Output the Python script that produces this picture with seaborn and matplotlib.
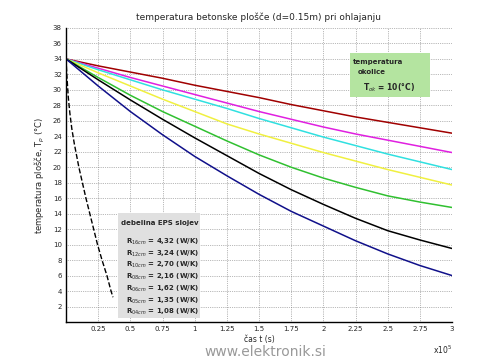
import numpy as np
import pandas as pd
import matplotlib
matplotlib.use("Agg")
import matplotlib.pyplot as plt
import seaborn as sns
from matplotlib.patches import Rectangle

# time axis (x 1e5 s)
t_scale = 1e5
t_steps = [0, 0.25, 0.5, 0.75, 1.0, 1.25, 1.5, 1.75, 2.0, 2.25, 2.5, 2.75, 3.0]

# plate temperature for each EPS thickness (deg C)
T_16cm = [34, 33.1, 32.3, 31.5, 30.6, 29.8, 29.0, 28.1, 27.3, 26.5, 25.8, 25.1, 24.4]
T_12cm = [34, 32.8, 31.6, 30.5, 29.4, 28.3, 27.2, 26.2, 25.2, 24.3, 23.5, 22.7, 21.9]
T_10cm = [34, 32.6, 31.3, 30.0, 28.8, 27.6, 26.3, 25.1, 23.9, 22.8, 21.7, 20.7, 19.7]
T_08cm = [34, 32.2, 30.5, 28.8, 27.2, 25.6, 24.3, 23.1, 21.9, 20.8, 19.7, 18.7, 17.7]
T_06cm = [34, 31.6, 29.3, 27.2, 25.3, 23.4, 21.6, 20.0, 18.6, 17.4, 16.3, 15.5, 14.8]
T_05cm = [34, 31.3, 28.7, 26.2, 23.8, 21.5, 19.2, 17.1, 15.2, 13.4, 11.8, 10.6, 9.5]
T_04cm = [34, 30.5, 27.2, 24.2, 21.4, 18.9, 16.5, 14.3, 12.4, 10.5, 8.8, 7.3, 6.0]

# no insulation (dashed)
t_bare = [0, 800, 1800, 3000, 4500, 6500, 10000, 15500, 21500, 24500, 28000, 31800, 35000, 36500]
T_bare = [34, 31.5, 29, 27, 25, 23, 20, 16, 12, 10, 8, 6, 4, 3.2]

layers = ["16cm", "12cm", "10cm", "08cm", "06cm", "05cm", "04cm"]
R_values = ["4,32", "3,24", "2,70", "2,16", "1,62", "1,35", "1,08"]
colors = ["#a00000", "#e020e0", "#30e0e0", "#f0f040", "#30c030", "#000000", "#10108a"]
series = [T_16cm, T_12cm, T_10cm, T_08cm, T_06cm, T_05cm, T_04cm]

rows = []
for name, vals in zip(layers, series):
    for t, T in zip(t_steps, vals):
        rows.append({"t": t * t_scale, "T": T, "sloj": name})
df = pd.DataFrame(rows)
df_bare = pd.DataFrame({"t": t_bare, "T": T_bare})

sns.set_style("white")
plt.rcParams["font.family"] = ["DejaVu Sans"]

fig = plt.figure(figsize=(5, 3.63), dpi=100)
ax = fig.add_axes([0.132, 0.113, 0.772, 0.81])

sns.lineplot(data=df, x="t", y="T", hue="sloj", palette=colors, linewidth=1.1,
             legend=False, ax=ax)
sns.lineplot(data=df_bare, x="t", y="T", color="black", linewidth=1.0,
             linestyle="--", legend=False, ax=ax)

ax.set_xlim(0, 3e5)
ax.set_ylim(0, 38)
xt = np.arange(0.25, 3.01, 0.25)
ax.set_xticks(xt * t_scale)
ax.set_xticklabels([("%g" % v) for v in xt], fontsize=5)
ax.set_yticks(np.arange(2, 39, 2))
ax.set_yticklabels([str(v) for v in range(2, 39, 2)], fontsize=5)
ax.tick_params(direction="in", length=3, width=0.8, pad=3)
ax.grid(True, linestyle=":", color="#777777", linewidth=0.5)
for s in ["top", "right"]:
    ax.spines[s].set_visible(False)
for s in ["left", "bottom"]:
    ax.spines[s].set_linewidth(1.0)
    ax.spines[s].set_color("black")

ax.set_title("temperatura betonske plošče (d=0.15m) pri ohlajanju", fontsize=6.5, pad=6)
ax.set_xlabel("čas t (s)", fontsize=5.5, labelpad=2)
ax.set_ylabel("temperatura plošče, T$_p$ (°C)", fontsize=6, labelpad=4)
ax.text(1.0, -0.075, r"x10$^5$", transform=ax.transAxes, fontsize=5.5,
        ha="right", va="top")

# ambient temperature box
ax.add_patch(Rectangle((0.736, 0.765), 0.207, 0.15, transform=ax.transAxes,
                       facecolor="#b4e4a0", edgecolor="none", zorder=5))
ax.text(0.742, 0.885, "temperatura", transform=ax.transAxes, fontsize=5,
        fontweight="bold", zorder=6, va="center")
ax.text(0.755, 0.85, "okolice", transform=ax.transAxes, fontsize=5,
        fontweight="bold", zorder=6, va="center")
ax.text(0.77, 0.795, "T$_{ok}$ = 10(°C)", transform=ax.transAxes, fontsize=5.5,
        fontweight="bold", zorder=6, va="center")

# EPS layer box
ax.add_patch(Rectangle((0.135, 0.014), 0.212, 0.357, transform=ax.transAxes,
                       facecolor="#e0e0e0", edgecolor="none", zorder=5))
ax.text(0.143, 0.337, "debelina EPS slojev", transform=ax.transAxes, fontsize=5,
        fontweight="bold", zorder=6, va="center")
for i, (name, r) in enumerate(zip(layers, R_values)):
    y = (322 - (242 + i * 11.7)) / 294
    ax.text(0.155, y, "R$_{%s}$ = %s (W/K)" % (name, r), transform=ax.transAxes,
            fontsize=5, fontweight="bold", zorder=6, va="center")

fig.text(0.53, 0.03, "www.elektronik.si", fontsize=10, color="#999999",
         ha="center", va="center")

fig.savefig("out.png", dpi=100, facecolor="white")
